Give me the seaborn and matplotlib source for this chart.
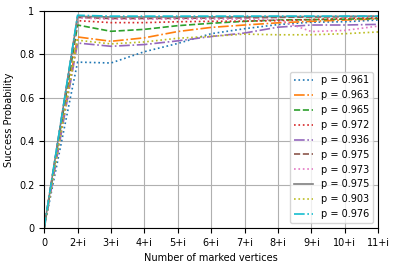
import matplotlib
matplotlib.use("Agg")
import matplotlib.pyplot as plt
import seaborn as sns

# x positions and their labels
x = list(range(11))
tick_labels = ["0", "2+i", "3+i", "4+i", "5+i", "6+i", "7+i", "8+i", "9+i", "10+i", "11+i"]
y_ticks = [0, 0.2, 0.4, 0.6, 0.8, 1.0]
y_tick_labels = ["0", "0.2", "0.4", "0.6", "0.8", "1"]

# success probability per run
p961 = [0, 0.764, 0.760, 0.812, 0.850, 0.895, 0.918, 0.937, 0.948, 0.950, 0.958]
p963 = [0, 0.880, 0.860, 0.876, 0.905, 0.924, 0.935, 0.945, 0.952, 0.958, 0.963]
p965 = [0, 0.935, 0.906, 0.915, 0.932, 0.943, 0.952, 0.958, 0.960, 0.962, 0.965]
p972 = [0, 0.955, 0.946, 0.946, 0.950, 0.952, 0.953, 0.955, 0.960, 0.965, 0.968]
p936 = [0, 0.852, 0.837, 0.845, 0.862, 0.882, 0.898, 0.925, 0.935, 0.935, 0.938]
p975a = [0, 0.970, 0.965, 0.965, 0.966, 0.967, 0.968, 0.970, 0.972, 0.973, 0.975]
p973 = [0, 0.968, 0.962, 0.962, 0.963, 0.963, 0.962, 0.960, 0.905, 0.910, 0.930]
p975b = [0, 0.975, 0.972, 0.972, 0.972, 0.973, 0.973, 0.974, 0.974, 0.975, 0.975]
p903 = [0, 0.865, 0.848, 0.857, 0.874, 0.883, 0.893, 0.890, 0.890, 0.895, 0.903]
p976 = [0, 0.980, 0.976, 0.976, 0.976, 0.976, 0.976, 0.976, 0.976, 0.976, 0.976]

series = [p961, p963, p965, p972, p936, p975a, p973, p975b, p903, p976]
labels = ["p = 0.961", "p = 0.963", "p = 0.965", "p = 0.972", "p = 0.936",
          "p = 0.975", "p = 0.973", "p = 0.975", "p = 0.903", "p = 0.976"]
styles = [":", "-.", "--", ":", "-.", "--", ":", "-", ":", "-."]

colors = sns.color_palette("tab10", 10)
plt.rcParams["font.size"] = 7

fig = plt.figure(figsize=(3.98, 2.66), dpi=100)
ax = fig.add_axes([0.111, 0.143, 0.839, 0.816])

for vals, lab, ls, c in zip(series, labels, styles, colors):
    sns.lineplot(x=x, y=vals, ax=ax, label=lab, linestyle=ls, color=c, linewidth=1.2)

ax.set_xlim(0, 10)
ax.set_ylim(0, 1)
ax.set_xticks(x)
ax.set_xticklabels(tick_labels)
ax.set_yticks(y_ticks)
ax.set_yticklabels(y_tick_labels)
ax.grid(True)
ax.set_xlabel("Number of marked vertices")
ax.set_ylabel("Success Probability")
ax.legend(loc="lower right", fontsize=7)

plt.savefig("out.png", dpi=100)
